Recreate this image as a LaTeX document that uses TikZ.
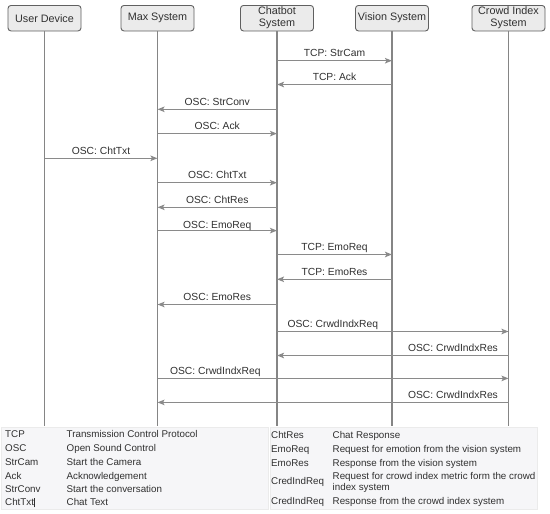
\documentclass[tikz,border=0pt]{standalone}
\usepackage{fontspec}
\setmainfont{Liberation Sans}
\usetikzlibrary{arrows.meta}
\definecolor{life}{HTML}{858585}
\definecolor{arr}{HTML}{8A8A8A}
\definecolor{boxfill}{HTML}{EBEBEB}
\definecolor{boxline}{HTML}{606060}
\definecolor{txt}{HTML}{303030}
\definecolor{legfill}{HTML}{F6F6F8}
\tikzset{
  hdr/.style={draw=boxline, fill=boxfill, line width=0.9pt, rounded corners=3pt,
    minimum width=73pt, minimum height=25.5pt, inner sep=0pt, align=center,
    text=txt, font=\fontsize{10.8}{12}\selectfont, anchor=north},
  lifeline/.style={draw=life, line width=1.8pt},
  msg/.style={draw=arr, line width=1.2pt, -{Stealth[length=7pt,width=5.5pt,inset=1.5pt]}},
  lab/.style={anchor=base, yshift=4pt, inner sep=0pt, text=txt, font=\fontsize{10.3}{12}\selectfont},
  labl/.style={lab, anchor=base west},
  labr/.style={lab, anchor=base east},
  leg/.style={anchor=base west, inner sep=0pt, text=txt, font=\fontsize{9.8}{10.7}\selectfont},
  legpanel/.style={fill=legfill, draw=white!92!black, line width=0.4pt}
}
\begin{document}
\begin{tikzpicture}[x=1pt, y=-1pt]
\useasboundingbox (0,0) rectangle (550,514);
\fill[white] (0,0) rectangle (550,514);

% headers
\node[hdr] (ud) at (44.5,5) {User Device};
\node[hdr] (ms) at (157.5,5) {Max System};
\node[hdr] (cs) at (277,5) {Chatbot\\System};
\node[hdr] (vs) at (392,5) {Vision System};
\node[hdr] (ci) at (508.5,5) {Crowd Index\\System};

% lifeline ends
\coordinate (bot) at (0,425.5);
\coordinate (ud-e) at (ud.south |- bot);
\coordinate (ms-e) at (ms.south |- bot);
\coordinate (cs-e) at (cs.south |- bot);
\coordinate (vs-e) at (vs.south |- bot);
\coordinate (ci-e) at (ci.south |- bot);
\foreach \n in {ud,ms,cs,vs,ci} {\draw[lifeline] (\n.south) -- (\n-e);}

% message rows
\coordinate (r1) at (0,60.7);
\coordinate (r2) at (0,84.5);
\coordinate (r3) at (0,109.3);
\coordinate (r4) at (0,133.6);
\coordinate (r5) at (0,158.3);
\coordinate (r6) at (0,182.7);
\coordinate (r7) at (0,207.3);
\coordinate (r8) at (0,230.6);
\coordinate (r9) at (0,254.5);
\coordinate (r10) at (0,279.3);
\coordinate (r11) at (0,304.5);
\coordinate (r12) at (0,331.5);
\coordinate (r13) at (0,355.5);
\coordinate (r14) at (0,378.4);
\coordinate (r15) at (0,402.4);

\draw[msg] (cs |- r1) -- node[lab, midway]{TCP: StrCam} (vs |- r1);
\draw[msg] (vs |- r2) -- node[lab, midway]{TCP: Ack} (cs |- r2);
\draw[msg] (cs |- r3) -- node[lab, midway]{OSC: StrConv} (ms |- r3);
\draw[msg] (ms |- r4) -- node[lab, midway]{OSC: Ack} (cs |- r4);
\draw[msg] (ud |- r5) -- node[lab, midway]{OSC: ChtTxt} (ms |- r5);
\draw[msg] (ms |- r6) -- node[lab, midway]{OSC: ChtTxt} (cs |- r6);
\draw[msg] (cs |- r7) -- node[lab, midway]{OSC: ChtRes} (ms |- r7);
\draw[msg] (ms |- r8) -- node[lab, midway, yshift=-1.5pt]{OSC: EmoReq} (cs |- r8);
\draw[msg] (cs |- r9) -- node[lab, midway]{TCP: EmoReq} (vs |- r9);
\draw[msg] (vs |- r10) -- node[lab, midway]{TCP: EmoRes} (cs |- r10);
\draw[msg] (cs |- r11) -- node[lab, midway]{OSC: EmoRes} (ms |- r11);
\draw[msg] (cs |- r12) -- node[labl, pos=0, xshift=10pt]{OSC: CrwdIndxReq} (ci |- r12);
\draw[msg] (ci |- r13) -- node[labr, pos=0, xshift=-10pt]{OSC: CrwdIndxRes} (cs |- r13);
\draw[msg] (ms |- r14) -- node[labl, pos=0, xshift=12pt]{OSC: CrwdIndxReq} (ci |- r14);
\draw[msg] (ci |- r15) -- node[labr, pos=0, xshift=-10pt]{OSC: CrwdIndxRes} (ms |- r15);

% legend panels
\path[legpanel] (1.5,427.5) rectangle (268.5,509.5);
\path[legpanel] (270,427.5) rectangle (537.5,509.5);

% left legend
\node[leg] (la1) at (5,437.5) {TCP};
\node[leg] (lb1) at (66.5,437.5) {Transmission Control Protocol};
\node[leg] (la2) at (5,451.5) {OSC};
\node[leg] (lb2) at (66.5,451.5) {Open Sound Control};
\node[leg] (la3) at (5,465.3) {StrCam};
\node[leg] (lb3) at (66.5,465.3) {Start the Camera};
\node[leg] (la4) at (5,479) {Ack};
\node[leg] (lb4) at (66.5,479) {Acknowledgement};
\node[leg] (la5) at (5,492.5) {StrConv};
\node[leg] (lb5) at (66.5,492.5) {Start the conversation};
\node[leg] (la6) at (5,505.8) {ChtTxt\kern0.3pt\rule[-1.5pt]{0.6pt}{9.5pt}};
\node[leg] (lb6) at (66.5,505.8) {Chat Text};

% right legend
\node[leg] (ra1) at (271,438.5) {ChtRes};
\node[leg] (rb1) at (332.5,438.5) {Chat Response};
\node[leg] (ra2) at (271,452.2) {EmoReq};
\node[leg] (rb2) at (332.5,452.2) {Request for emotion from the vision system};
\node[leg] (ra3) at (271,466) {EmoRes};
\node[leg] (rb3) at (332.5,466) {Response from the vision system};
\node[leg] (ra4) at (271,484.2) {CredIndReq};
\node[leg] (rb4) at (332.5,479.5) {Request for crowd index metric form the crowd};
\node[leg] (rb4b) at (332.5,490.2) {index system};
\node[leg] (ra5) at (271,504.5) {CredIndReq};
\node[leg] (rb5) at (332.5,504.5) {Response from the crowd index system};
\end{tikzpicture}
\end{document}
